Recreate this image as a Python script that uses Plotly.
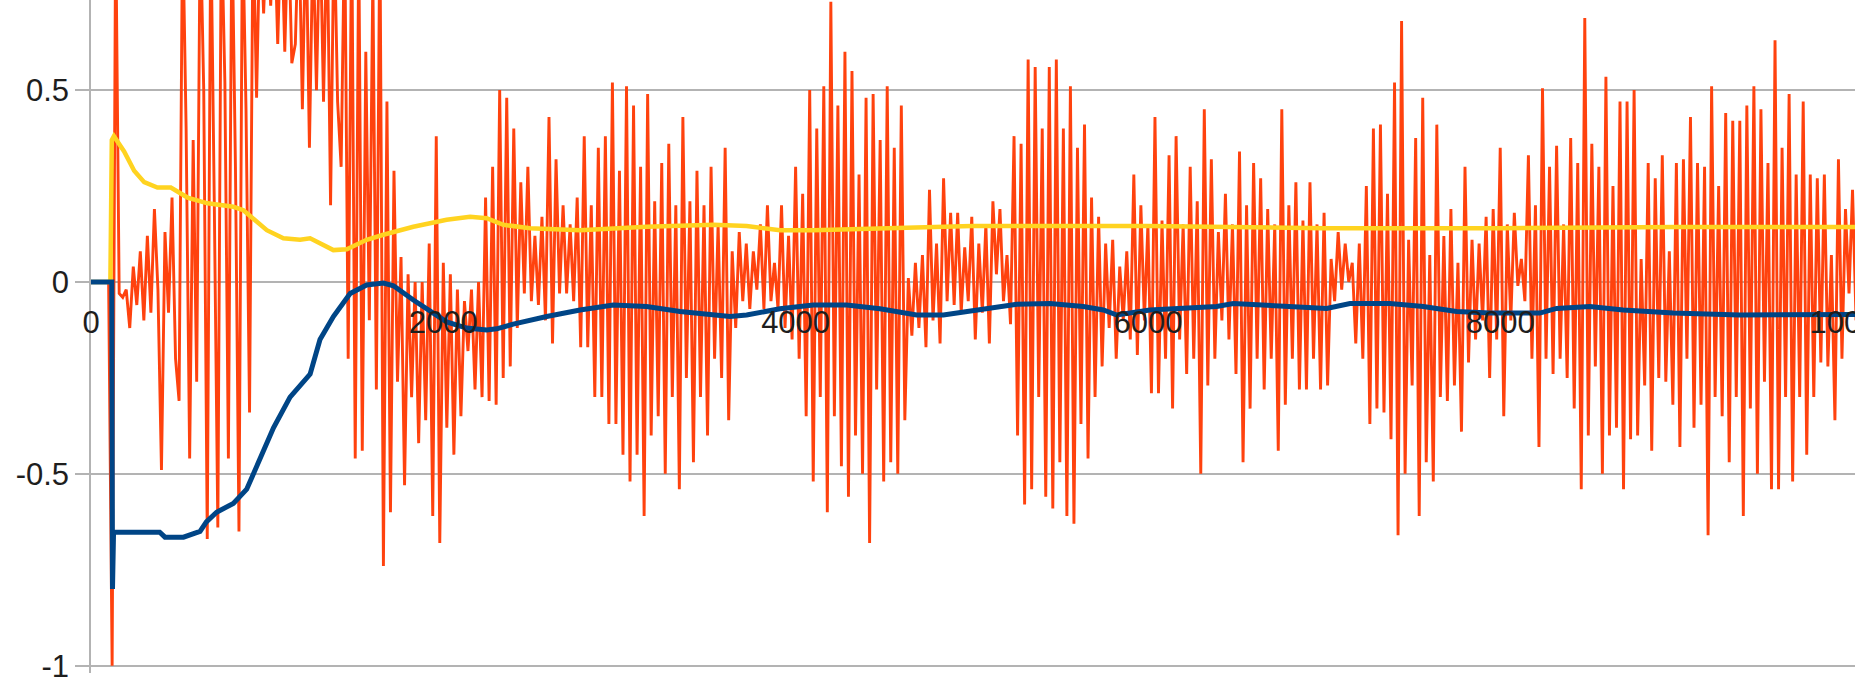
import plotly.graph_objects as go

# ---- data ----
orange_start = 100
orange_step = 20
orange_y = [
    0, -1.0, 0.95, -0.03, -0.04, -0.02, -0.12, 0.04, -0.06, 0.08,
    -0.1, 0.12, -0.08, 0.19, -0.02, -0.49, 0.13, -0.08, 0.22, -0.2,
    -0.31, 0.95, 0.4, -0.46, 0.37, -0.26, 0.95, 0.5, -0.67, 0.95,
    0.2, -0.64, 0.95, 0.52, -0.46, 0.95, 0.3, -0.65, 0.95, 0.45,
    -0.34, 0.95, 0.48, 0.95, 0.7, 0.95, 0.72, 0.95, 0.62, 0.95,
    0.6, 0.95, 0.57, 0.62, 0.95, 0.45, 0.95, 0.35, 0.9, 0.5,
    0.95, 0.47, 0.95, 0.2, 0.95, 0.47, 0.3, 0.95, -0.2, 0.95,
    -0.46, 0.9, -0.44, 0.6, -0.1, 0.8, -0.28, 0.95, -0.74, 0.47,
    -0.6, 0.29, -0.26, 0.065, -0.53, 0.02, -0.3, 0.0, -0.42, 0.0,
    -0.36, 0.1, -0.61, 0.38, -0.68, 0.05, -0.38, 0.02, -0.45, -0.02,
    -0.35, -0.05, -0.18, -0.02, -0.28, 0.0, -0.3, 0.22, -0.31, 0.3,
    -0.32, 0.5, -0.25, 0.48, -0.22, 0.4, -0.12, 0.26, -0.03, 0.3,
    -0.05, 0.12, -0.06, 0.17, -0.1, 0.43, -0.16, 0.32, -0.03, 0.2,
    -0.03, 0.15, -0.05, 0.22, -0.17, 0.38, -0.17, 0.2, -0.3, 0.35,
    -0.3, 0.38, -0.37, 0.52, -0.37, 0.29, -0.45, 0.51, -0.52, 0.46,
    -0.45, 0.3, -0.61, 0.49, -0.4, 0.21, -0.35, 0.31, -0.5, 0.36,
    -0.3, 0.2, -0.54, 0.43, -0.25, 0.21, -0.47, 0.29, -0.3, 0.2,
    -0.4, 0.3, -0.2, 0.15, -0.25, 0.35, -0.36, 0.08, -0.12, 0.13,
    -0.05, 0.1, -0.07, 0.08, -0.02, 0.15, -0.07, 0.2, -0.05, 0.05,
    -0.07, 0.2, -0.12, 0.12, -0.15, 0.3, -0.2, 0.23, -0.35, 0.5,
    -0.52, 0.4, -0.3, 0.51, -0.6, 0.73, -0.35, 0.46, -0.48, 0.6,
    -0.56, 0.55, -0.4, 0.28, -0.5, 0.48, -0.68, 0.49, -0.28, 0.37,
    -0.52, 0.51, -0.47, 0.35, -0.5, 0.46, -0.36, 0.01, -0.14, 0.05,
    -0.12, 0.07, -0.17, 0.24, -0.1, 0.1, -0.16, 0.27, -0.05, 0.18,
    -0.06, 0.18, -0.08, 0.09, -0.05, 0.17, -0.15, 0.1, -0.08, 0.15,
    -0.16, 0.21, 0.02, 0.19, -0.05, 0.07, -0.11, 0.38, -0.4, 0.36,
    -0.58, 0.58, -0.54, 0.56, -0.3, 0.4, -0.56, 0.56, -0.59, 0.58,
    -0.47, 0.4, -0.61, 0.51, -0.63, 0.35, -0.37, 0.41, -0.46, 0.22,
    -0.3, 0.17, -0.22, 0.1, -0.12, 0.11, -0.2, 0.04, -0.1, 0.08,
    -0.15, 0.28, -0.19, 0.2, -0.1, 0.15, -0.29, 0.43, -0.29, 0.16,
    -0.2, 0.33, -0.33, 0.38, -0.15, 0.15, -0.24, 0.3, -0.2, 0.21,
    -0.5, 0.45, -0.27, 0.32, -0.2, 0.13, -0.1, 0.23, -0.15, 0.15,
    -0.24, 0.34, -0.47, 0.2, -0.33, 0.31, -0.2, 0.27, -0.28, 0.19,
    -0.2, 0.15, -0.44, 0.45, -0.32, 0.2, -0.2, 0.26, -0.28, 0.16,
    -0.28, 0.26, -0.2, 0.15, -0.28, 0.18, -0.27, 0.06, -0.05, 0.13,
    -0.02, 0.1, 0.0, 0.05, -0.16, 0.1, -0.2, 0.25, -0.37, 0.4,
    -0.33, 0.41, -0.34, 0.23, -0.41, 0.52, -0.66, 0.68, -0.5, 0.11,
    -0.27, 0.375, -0.61, 0.48, -0.47, 0.07, -0.52, 0.41, -0.3, 0.12,
    -0.31, 0.19, -0.27, 0.05, -0.39, 0.3, -0.21, 0.11, -0.15, 0.1,
    -0.1, 0.17, -0.25, 0.19, -0.15, 0.35, -0.35, 0.15, -0.1, 0.18,
    -0.01, 0.06, -0.05, 0.33, -0.2, 0.2, -0.43, 0.505, -0.2, 0.3,
    -0.24, 0.355, -0.2, 0.15, -0.25, 0.375, -0.33, 0.31, -0.54, 0.688,
    -0.4, 0.36, -0.22, 0.3, -0.5, 0.535, -0.4, 0.25, -0.38, 0.47,
    -0.54, 0.47, -0.41, 0.5, -0.4, 0.06, -0.27, 0.31, -0.44, 0.27,
    -0.25, 0.33, -0.26, 0.08, -0.32, 0.31, -0.43, 0.32, -0.2, 0.43,
    -0.38, 0.31, -0.32, 0.3, -0.66, 0.51, -0.3, 0.25, -0.35, 0.44,
    -0.47, 0.42, -0.3, 0.42, -0.61, 0.46, -0.33, 0.51, -0.5, 0.45,
    -0.26, 0.31, -0.54, 0.63, -0.54, 0.35, -0.3, 0.49, -0.52, 0.28,
    -0.3, 0.47, -0.45, 0.28, -0.3, 0.27, -0.21, 0.28, -0.22, 0.07,
    -0.36, 0.32, -0.2, 0.19, -0.03, 0.24, -0.1,
]
orange_x = [orange_start + orange_step * i for i in range(len(orange_y))]

blue_x = [0, 118, 122, 128, 250, 390, 420, 525, 619, 655,
          713, 808, 884, 941, 1036, 1130, 1244, 1300, 1376, 1471,
          1565, 1660, 1717, 1830, 1925, 2019, 2133, 2246, 2303, 2397,
          2587, 2776, 2965, 3154, 3344, 3533, 3628, 3722, 3911, 4100,
          4290, 4479, 4687, 4839, 4971, 5160, 5255, 5444, 5633, 5747,
          5823, 6011, 6201, 6390, 6485, 6674, 6863, 7015, 7147, 7279,
          7374, 7563, 7752, 7941, 8225, 8320, 8509, 8698, 8982, 9361,
          9739, 10020]
blue_y = [0, 0, -0.8, -0.652, -0.652, -0.652, -0.665, -0.665, -0.65, -0.625,
          -0.6, -0.577, -0.54, -0.48, -0.38, -0.3, -0.24, -0.15, -0.09, -0.03,
          -0.008, -0.003, -0.01, -0.047, -0.077, -0.104, -0.12, -0.125, -0.122, -0.11,
          -0.09, -0.073, -0.06, -0.064, -0.077, -0.086, -0.09, -0.086, -0.07, -0.06,
          -0.06, -0.07, -0.086, -0.086, -0.077, -0.064, -0.058, -0.056, -0.064, -0.073,
          -0.086, -0.073, -0.069, -0.064, -0.056, -0.06, -0.064, -0.069, -0.056, -0.056,
          -0.056, -0.064, -0.077, -0.081, -0.081, -0.069, -0.064, -0.073, -0.081, -0.086,
          -0.086, -0.085]

yellow_x = [0, 110, 118, 130, 188, 245, 302, 377, 453, 548,
            662, 808, 865, 922, 998, 1092, 1187, 1244, 1300, 1376,
            1452, 1565, 1660, 1754, 1830, 2019, 2152, 2246, 2341, 2492,
            2776, 3154, 3533, 3722, 3911, 4100, 4479, 5000, 6000, 7000,
            8000, 9000, 10020]
yellow_y = [0, 0, 0.37, 0.38, 0.34, 0.29, 0.26, 0.246, 0.246, 0.22,
            0.205, 0.196, 0.187, 0.166, 0.135, 0.114, 0.11, 0.114, 0.1, 0.083,
            0.085, 0.11, 0.123, 0.135, 0.144, 0.162, 0.17, 0.166, 0.149, 0.14,
            0.135, 0.144, 0.149, 0.146, 0.135, 0.135, 0.14, 0.146, 0.146, 0.14,
            0.14, 0.143, 0.143]

x_ticks = [0, 2000, 4000, 6000, 8000, 10000]
x_tick_labels = ["0", "2000", "4000", "6000", "8000", "10000"]
y_ticks = [-1, -0.5, 0, 0.5]
y_tick_labels = ["-1", "-0.5", "0", "0.5"]

y_min, y_max = -1.019, 0.7348
x_min, x_max = 0, 10014

grid_col = "#b3b3b3"
font = dict(family="Liberation Sans, Arial, sans-serif", size=31, color="#1e1e1e")

fig = go.Figure()
fig.add_trace(go.Scatter(x=orange_x, y=orange_y, mode="lines",
                         line=dict(color="#ff420e", width=2.9), showlegend=False))
fig.add_trace(go.Scatter(x=yellow_x, y=yellow_y, mode="lines",
                         line=dict(color="#ffd320", width=4.5), showlegend=False))
fig.add_trace(go.Scatter(x=blue_x, y=blue_y, mode="lines",
                         line=dict(color="#004586", width=5), showlegend=False))

fig.update_layout(
    width=1855, height=680,
    margin=dict(l=91, r=0, t=0, b=7, autoexpand=False),
    paper_bgcolor="white", plot_bgcolor="white",
    font=font,
    xaxis=dict(range=[x_min, x_max], anchor="free",
               position=(0 - y_min) / (y_max - y_min),
               tickvals=x_ticks, ticktext=x_tick_labels,
               showgrid=False, zeroline=False, showline=False, ticks="",
               ticklabelstandoff=19, tickfont=font, automargin=False,
               ticklabeloverflow="allow"),
    yaxis=dict(range=[y_min, y_max], tickvals=y_ticks, ticktext=y_tick_labels,
               showgrid=True, gridcolor=grid_col, gridwidth=1.5,
               zeroline=False, showline=True, linecolor=grid_col, linewidth=1.5,
               ticks="outside", ticklen=14, tickcolor=grid_col, tickwidth=1.5,
               tickfont=font, automargin=False, ticklabeloverflow="allow"),
)

fig.write_html(
    "out.html",
    config={"displayModeBar": False},
    post_script="document.body.style.margin='0';document.body.style.overflow='hidden';",
)
